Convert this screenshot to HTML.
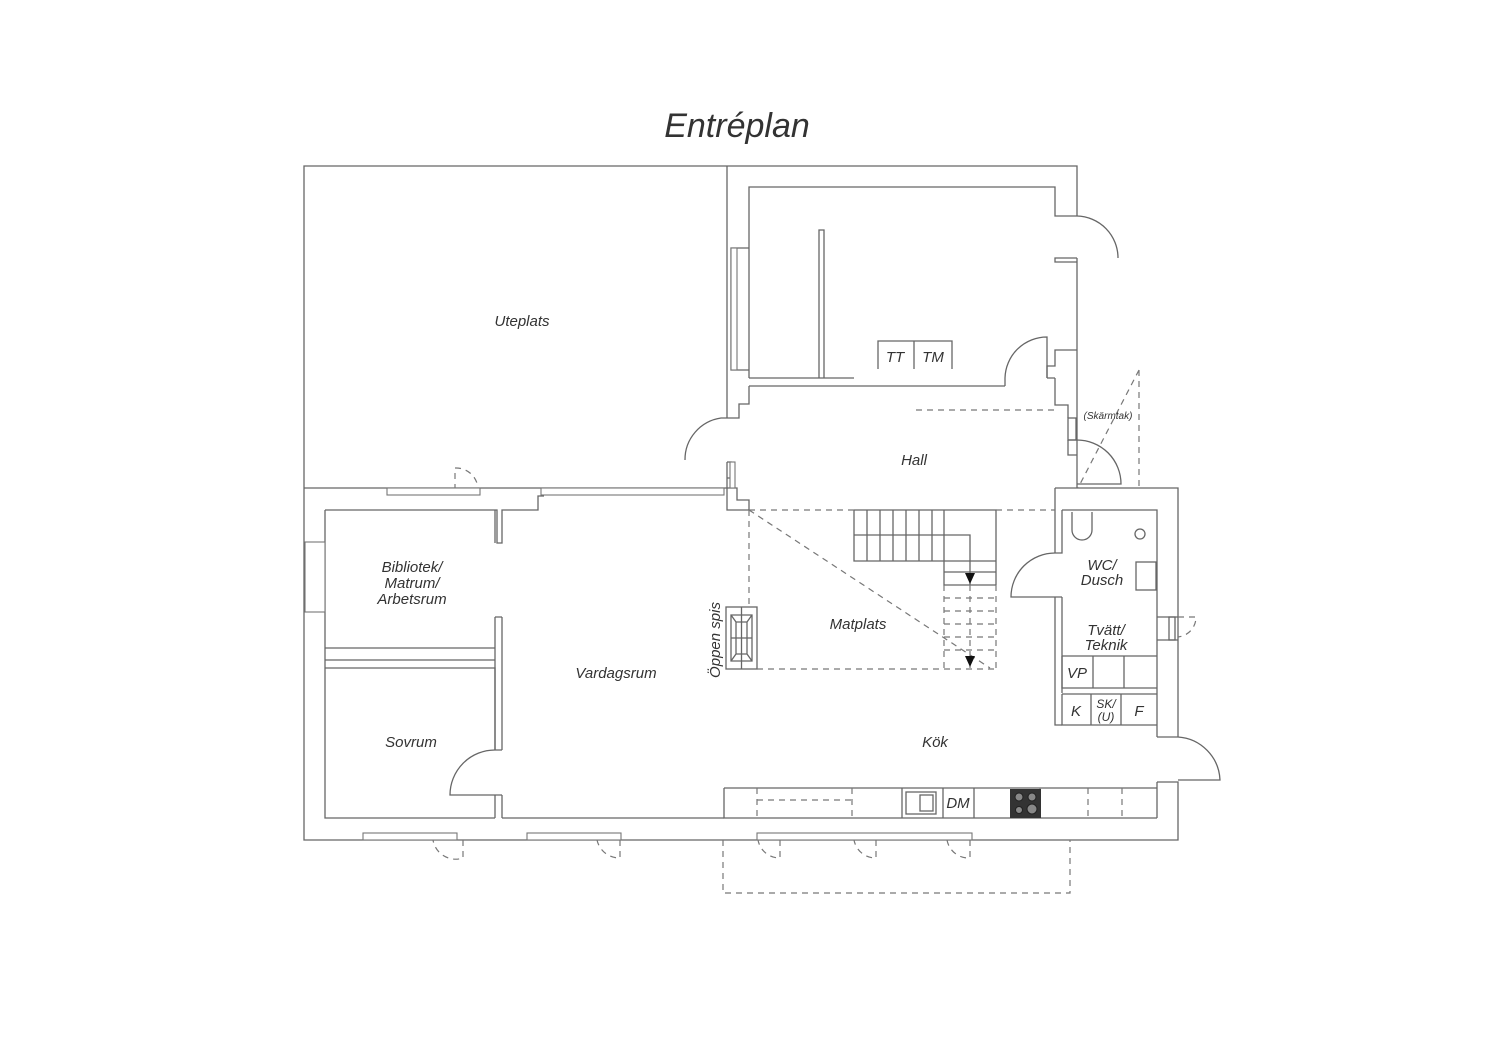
<!DOCTYPE html>
<html><head><meta charset="utf-8"><style>
html,body{margin:0;padding:0;background:#fff;}
svg{display:block;}
text{font-family:"Liberation Sans",sans-serif;font-style:italic;fill:#333;}
</style></head><body>
<svg width="1500" height="1060" viewBox="0 0 1500 1060" xmlns="http://www.w3.org/2000/svg">
<rect width="1500" height="1060" fill="#fff"/>
<text x="737" y="137" font-size="34" text-anchor="middle" fill="#222">Entréplan</text>
<g fill="none" stroke="#666" stroke-width="1.3">
<!-- Uteplats -->
<path d="M727 166 H304 V488"/>
<!-- upper block outer -->
<path d="M727 166 H1077 V216"/>
<path d="M1077 258 V488"/>
<path d="M727 166 V418 M727 462 V510 H749"/>
<!-- upper block inner -->
<path d="M749 378 V187 H1055 V216 H1077 M1077 258 H1055 V262 H1077"/>
<path d="M749 248 H731 V370 H749"/>
<path d="M749 378 H854 M749 386 V404 H739 V418 H727"/>
<path d="M749 386 H1005 M1047 378 V366 H1055 V350 H1077"/>
<path d="M1055 378 H1047 M1055 378 V405 H1068 V418"/>
<path d="M1068 440 V455 H1077"/>
<!-- partition thin wall -->
<path d="M819 378 V230 H824 V378"/>
<!-- TT TM -->
<path d="M878 369 V341 H952 V369 M914 341 V369"/>
<!-- door upper room -->
<path d="M1005 386 V378 M1047 378 V337 A42 42 0 0 0 1005 378"/>
<path d="M1077 216 A42 42 0 0 1 1118 258"/>
<!-- hall left door -->
<path d="M727 418 H721 A42 42 0 0 0 685 460 M727 462 H731 V478 H727"/>
<path d="M731 462 V488 M727 488 H737 V500 H749 V510"/>
<!-- hall right entrance door -->
<path d="M1068 440 H1077 M1077 440 A44 44 0 0 1 1121 484 H1077"/>
<rect x="1068" y="418" width="8" height="22"/>
<!-- lower block -->
<path d="M304 488 H727 M304 488 V840 H1178 V782 H1157 M1178 737 V488 H1077"/>
<path d="M1055 488 V510 M1055 488 H1077"/>
<!-- lower inner -->
<path d="M325 510 H497 V543 H502 V510 H538 V496 H544 M325 510 V818 H495 M502 818 H724"/>
<path d="M325 648 H495 M325 660 H495 M325 668 H495 V750 M495 795 V818 M495 510 V543"/>
<path d="M495 617 V750 M502 617 V750 M495 617 H502 M495 795 H502 M502 795 V818 M495 750 H502"/>
<path d="M495 750 A45 45 0 0 0 450 795 H495"/>
<!-- Wc / tvätt block -->
<path d="M1055 510 V553 M1055 597 V725 H1062 M1062 510 V553 H1055 M1062 597 V693 M1062 510 H1157 V737 M1157 782 V818 H1157"/>
<path d="M1062 597 H1055 M1055 553 A44 44 0 0 0 1011 597 H1055"/>
<path d="M1157 737 H1178 M1178 737 A45 45 0 0 1 1220 780 H1178"/>
<path d="M1062 656 H1157 M1062 656 V688 H1157 M1093 656 V688 M1124 656 V688 M1062 694 H1157 M1062 694 V725 H1157 M1091 694 V725 M1121 694 V725"/>
<path d="M1072 512 V530 A10 10 0 0 0 1092 530 V512"/>
<rect x="1136" y="562" width="20" height="28"/>
<circle cx="1140" cy="534" r="5"/>
<!-- window at WC right -->
<path d="M1157 617 H1178 M1157 640 H1178"/>
<rect x="1169" y="617" width="6" height="23"/>
<!-- kitchen counter -->
<path d="M724 788 H1157 M724 788 V818 H1157"/>
<path d="M902 788 V818 M943 788 V818 M974 788 V818"/>
<rect x="906" y="792" width="30" height="22"/>
<rect x="920" y="795" width="13" height="16"/>
<!-- stairs -->
<path d="M854 510 H996 V585 M854 510 V561 H944 V585 H996 M944 561 H996 M854 535 H970 V585"/>
<path d="M867 510 V561 M880 510 V561 M893 510 V561 M906 510 V561 M919 510 V561 M932 510 V561 M944 510 V561"/>
<path d="M944 572 H996"/>
<!-- fireplace -->
<rect x="726" y="607" width="31" height="62"/>
<path d="M731 615 H752 V661 H731 Z M736 622 H747 V654 H736 Z M731 615 L736 622 M752 615 L747 622 M731 661 L736 654 M752 661 L747 654 M741.5 607 V669 M731 638 H752"/>
</g>
<!-- dashed -->
<g fill="none" stroke="#777" stroke-width="1.2" stroke-dasharray="6 5">
<path d="M749 510 H854 M996 510 H1055 M749 510 V607 M757 669 H997 M749 510 L990 668"/>
<path d="M944 585 V669 M996 585 V669 M944 598 H996 M944 611 H996 M944 624 H996 M944 637 H996 M944 650 H996 M970 585 V669"/>
<path d="M916 410 H1055 M1139 370 V488 M1139 370 L1078 488"/>
<path d="M723 840 V893 H1070 V840"/>
<path d="M757 800 H852 M757 788 V818 M852 788 V818 M1040 788 V818 M1088 788 V818 M1122 788 V818"/>
<path d="M463 840 V858 A23 23 0 0 1 433 840 M455 490 V468 A22 22 0 0 1 478 488"/>
<path d="M620 840 V858 A23 23 0 0 1 597 840 M780 840 V858 A22 22 0 0 1 758 840 M876 840 V858 A22 22 0 0 1 854 840 M970 840 V858 A22 22 0 0 1 947 840"/>
<path d="M1178 617 H1196 A20 20 0 0 1 1178 637"/>
</g>
<!-- stair arrows -->
<g fill="#111"><path d="M965 573 H975 L970 584 Z M965 656 H975 L970 667 Z"/></g>
<!-- cooktop -->
<rect x="1010" y="789" width="31" height="29" fill="#333"/>
<g fill="#888" stroke="#222"><circle cx="1019" cy="797" r="4"/><circle cx="1032" cy="797" r="4"/><circle cx="1019" cy="810" r="3.5"/><circle cx="1032" cy="809" r="5"/></g>
<!-- windows -->
<g fill="#fff" stroke="#777" stroke-width="1.1">
<rect x="387" y="488" width="93" height="7"/>
<rect x="541" y="488" width="183" height="7"/>
<rect x="305" y="542" width="20" height="70"/>
<rect x="731" y="248" width="6" height="122"/>
<rect x="363" y="833" width="94" height="7"/>
<rect x="527" y="833" width="94" height="7"/>
<rect x="757" y="833" width="215" height="7"/>
<rect x="730" y="462" width="5" height="26"/>
</g>
<g font-size="15">
<text x="522" y="326" text-anchor="middle">Uteplats</text>
<text x="914" y="465" text-anchor="middle">Hall</text>
<text x="895" y="362" text-anchor="middle">TT</text>
<text x="933" y="362" text-anchor="middle">TM</text>
<text x="1108" y="419" text-anchor="middle" font-size="10">(Skärmtak)</text>
<text x="412" y="572" text-anchor="middle">Bibliotek/</text>
<text x="412" y="588" text-anchor="middle">Matrum/</text>
<text x="412" y="604" text-anchor="middle">Arbetsrum</text>
<text x="616" y="678" text-anchor="middle">Vardagsrum</text>
<text x="411" y="747" text-anchor="middle">Sovrum</text>
<text x="858" y="629" text-anchor="middle">Matplats</text>
<text x="935" y="747" text-anchor="middle">Kök</text>
<text x="1102" y="570" text-anchor="middle">WC/</text>
<text x="1102" y="585" text-anchor="middle">Dusch</text>
<text x="1106" y="635" text-anchor="middle">Tvätt/</text>
<text x="1106" y="650" text-anchor="middle">Teknik</text>
<text x="1077" y="678" text-anchor="middle">VP</text>
<text x="1076" y="716" text-anchor="middle">K</text>
<text x="1139" y="716" text-anchor="middle">F</text>
<text x="1106" y="708" text-anchor="middle" font-size="12">SK/</text>
<text x="1106" y="721" text-anchor="middle" font-size="12">(U)</text>
<text x="958" y="808" text-anchor="middle">DM</text>
<text transform="translate(720 640) rotate(-90)" text-anchor="middle">Öppen spis</text>
</g>
</svg>
</body></html>
